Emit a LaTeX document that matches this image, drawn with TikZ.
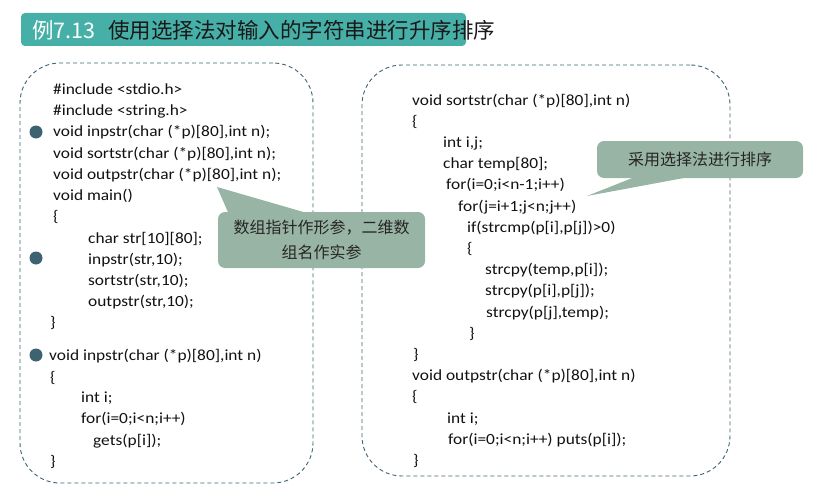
\documentclass[tikz,border=0pt]{standalone}
\usepackage{fontspec}
\setmainfont[FakeStretch=1.12]{Carlito}
\newfontfamily\cjk{Noto Sans CJK SC}
\definecolor{titleteal}{HTML}{46B0A8}
\definecolor{tipgreen}{HTML}{98B4A4}
\definecolor{slate}{HTML}{3D6272}
\definecolor{codeink}{HTML}{111111}

\tikzset{
  codeline/.style={anchor=base west,inner sep=0pt,text=codeink,font=\fontsize{15.5}{15.5}\selectfont},
  panel/.style={draw=slate,line width=0.9pt,dash pattern=on 4pt off 3pt,rounded corners=40pt},
  bullet/.style={circle,fill=slate,inner sep=0pt,minimum size=13pt},
  tipbox/.style={fill=tipgreen,rounded corners=7pt,inner sep=0pt,text=black!85,font=\cjk\fontsize{16}{25}\selectfont}
}

\begin{document}
\begin{tikzpicture}[x=1pt,y=-1pt]
  \useasboundingbox (0,0) rectangle (816,487);

  % title bar
  \fill[titleteal,rounded corners=4pt] (21,13) rectangle (466,46);
  \node[anchor=west,inner sep=0pt,text=white,font=\cjk\fontsize{21.5}{22}\selectfont] (num) at (32,30) {例7.13};
  \node[anchor=west,inner sep=0pt,text=black!90,font=\cjk\fontsize{21.5}{22}\selectfont] (head) at (108,30) {使用选择法对输入的字符串进行升序排序};

  % the two code panels
  \node[panel,minimum width=293pt,minimum height=420pt] (left) at (166.5,273) {};
  \node[panel,minimum width=368pt,minimum height=411pt] (right) at (546,270.5) {};

  % left code
  \foreach \x/\y/\t [count=\k] in {
      53/94/{\#include <stdio.h>},
      53/115.5/{\#include <string.h>},
      53/136.5/{void inpstr(char (*p)[80],int n);},
      53/158/{void sortstr(char (*p)[80],int n);},
      53/179/{void outpstr(char (*p)[80],int n);},
      53/200.5/{void main()},
      53/221.5/{\{},
      88/243/{char str[10][80];},
      88/264/{inpstr(str,10);},
      88/285/{sortstr(str,10);},
      88/306.5/{outpstr(str,10);},
      50/327.5/{\}},
      49/360.5/{void inpstr(char (*p)[80],int n)},
      50/382/{\{},
      81/402.5/{int i;},
      81/423/{for(i=0;i<n;i++)},
      93/445/{gets(p[i]);},
      50/466/{\}}}
    \node[codeline] (L\k) at (\x,\y) {\t};

  % right code
  \foreach \x/\y/\t [count=\k] in {
      412/105/{void sortstr(char (*p)[80],int n)},
      412/126.2/{\{},
      443/147.4/{int i,j;},
      443/168.6/{char temp[80];},
      446/189.8/{for(i=0;i<n-1;i++)},
      458/211/{for(j=i+1;j<n;j++)},
      467/232.2/{if(strcmp(p[i],p[j])>0)},
      467/253.4/{\{},
      485/274.6/{strcpy(temp,p[i]);},
      485/295.8/{strcpy(p[i],p[j]);},
      486/317/{strcpy(p[j],temp);},
      469/338.2/{\}},
      413/359.4/{\}},
      412/380.6/{void outpstr(char (*p)[80],int n)},
      412/401.8/{\{},
      447/423/{int i;},
      448/444.2/{for(i=0;i<n;i++) puts(p[i]);},
      413/465.4/{\}}}
    \node[codeline] (R\k) at (\x,\y) {\t};

  % bullets
  \foreach \y [count=\k] in {132,258,355}
    \node[bullet] (dot\k) at (36,\y) {};

  % callouts
  \coordinate (tipA) at (217,187);
  \coordinate (tipB) at (587,196);
  \node[tipbox,minimum width=207pt,minimum height=56pt,align=center] (noteA) at (321.5,240)
    {数组指针作形参，二维数\\组名作实参};
  \node[tipbox,minimum width=206pt,minimum height=37pt] (noteB) at (700,159.5)
    {采用选择法进行排序};
  \fill[tipgreen] (tipA) -- ([xshift=10pt]noteA.north west) -- ([xshift=85pt]noteA.north west) -- cycle;
  \fill[tipgreen] (tipB) -- ([xshift=35pt]noteB.south west) -- ([xshift=86pt]noteB.south west) -- cycle;
\end{tikzpicture}
\end{document}
